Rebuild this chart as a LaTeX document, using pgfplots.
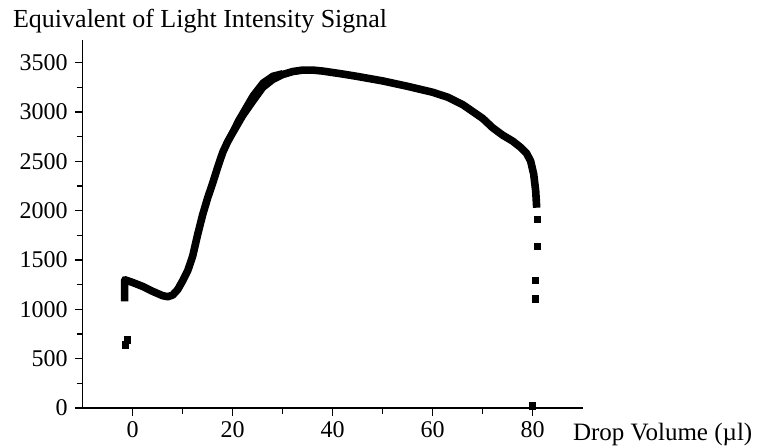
\documentclass[border=0pt]{standalone}
\usepackage{fontspec}
\setmainfont{Liberation Serif}
\usepackage{pgfplots}
\usepackage{pgfplotstable}
\pgfplotsset{compat=1.18}

% main trace
\pgfplotstableread{
x y
-1.6 1080
-1.6 1300
0 1272
2 1232
4 1182
6 1138
7 1128
8 1145
9 1200
10 1290
11 1390
12 1540
13 1760
14 1960
15 2130
16 2280
17 2440
18 2590
19 2700
20 2790
22 2965
24 3110
26 3250
28 3330
30 3380
32 3410
34 3425
36 3425
38 3415
40 3400
42 3385
45 3360
50 3315
55 3260
60 3200
63 3150
66 3075
70 2935
72 2840
74 2765
76 2705
77.5 2645
78.8 2580
79.6 2500
80.2 2370
80.6 2200
80.8 2030
}\tracedata

% scatter that thickens the rising part
\pgfplotstableread{
x y
19.5 2750
21 2910
22.5 3040
24 3170
26 3300
28 3370
30 3395
}\spreaddata

\pgfplotstableread{
x y
-1.5 640
-1.1 690
80.9 1914
80.9 1636
80.5 1291
80.5 1106
80.0 20
}\dotdata

\begin{document}
\begin{tikzpicture}
\begin{axis}[
    scale only axis,
    width=250pt, height=184pt,
    xmin=-10, xmax=90, ymin=0, ymax=3730,
    axis lines*=left,
    axis line style={line width=0.6pt},
    clip=false,
    xtick={0,20,40,60,80},
    minor xtick={10,30,50,70},
    ytick={0,500,...,3500},
    minor ytick={250,750,...,3250},
    tick align=outside,
    major tick length=4pt, minor tick length=3pt,
    tick style={black, line width=0.6pt},
    /pgf/number format/assume math mode=true,
    /pgf/number format/set thousands separator={},
    tick label style={font=\fontsize{12}{14}\selectfont},
    xticklabel style={yshift=1pt},
    title={Equivalent of Light Intensity Signal},
    title style={at={(rel axis cs:0,1)}, anchor=base west, inner sep=0pt,
        xshift=-35pt, yshift=0pt, font=\fontsize{13}{15}\selectfont},
    xlabel={Drop Volume (µl)},
    xlabel style={at={(rel axis cs:0.98,0)}, anchor=base west, inner sep=0pt,
        yshift=-16.5pt, font=\fontsize{12.5}{14}\selectfont},
]
\addplot[black, line width=3.8pt, line join=round] table {\tracedata};
\addplot[black, line width=3pt, line join=round] table {\spreaddata};
\addplot[only marks, mark=square*, mark size=1.6pt, black] table {\dotdata};
\end{axis}
\path ([xshift=-41.35pt,yshift=-20pt]current axis.south west)
    rectangle ([xshift=87.15pt,yshift=20pt]current axis.north east);
\end{tikzpicture}
\end{document}
